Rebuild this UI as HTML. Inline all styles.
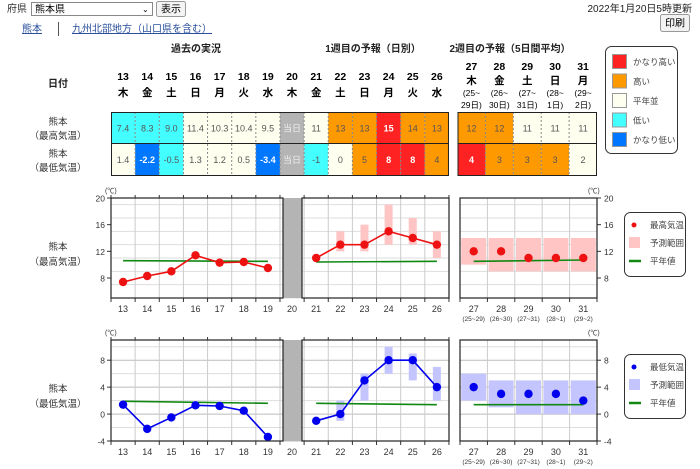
<!DOCTYPE html><html><head><meta charset="utf-8"><style>
body{margin:0;width:700px;height:469px;background:#fff;overflow:hidden;font-family:"Liberation Sans","Noto Sans CJK JP",sans-serif;}
svg{position:absolute;left:0;top:0}
</style></head><body>
<svg id="s" width="700" height="469" xmlns="http://www.w3.org/2000/svg" font-family="Liberation Sans, Noto Sans CJK JP, sans-serif">
<text x="7" y="12" font-size="10" fill="#333">府県</text>
<rect x="31.5" y="2.5" width="121" height="13" fill="#fff" stroke="#888"/>
<text x="35" y="12.5" font-size="10">熊本県</text>
<text x="142" y="12" font-size="8">⌄</text>
<rect x="156.5" y="1.5" width="29" height="15" rx="2" fill="#f4f4f4" stroke="#999"/>
<text x="171" y="12.5" font-size="10" text-anchor="middle">表示</text>
<text x="22" y="32" font-size="10" fill="#2a4f9c" text-decoration="underline">熊本</text>
<line x1="58.5" y1="22" x2="58.5" y2="36" stroke="#555"/>
<text x="72" y="32" font-size="10" fill="#2a4f9c" text-decoration="underline">九州北部地方（山口県を含む）</text>
<text x="692" y="12" font-size="10" text-anchor="end" fill="#222">2022年1月20日5時更新</text>
<rect x="660.5" y="14.5" width="29" height="17" rx="2" fill="#f2f2f2" stroke="#999"/>
<text x="675" y="26.5" font-size="10" text-anchor="middle">印刷</text>
<g font-size="10" font-weight="bold" text-anchor="middle" fill="#222">
<text x="196" y="52">過去の実況</text><text x="373" y="52">1週目の予報（日別）</text><text x="510" y="52">2週目の予報（5日間平均）</text>
<text x="58" y="87">日付</text>
</g>
<g font-size="9.5" text-anchor="middle" fill="#333">
<text x="58" y="125">熊本</text><text x="58" y="139">（最高気温）</text>
<text x="58" y="157">熊本</text><text x="58" y="171">（最低気温）</text>
<text x="58" y="250">熊本</text><text x="58" y="265">（最高気温）</text>
<text x="58" y="392">熊本</text><text x="58" y="407">（最低気温）</text>
</g>
<g id="g"></g>
</svg>
<script>
var g=document.getElementById('g'),h='';
function t(x,y,s,a){h+='<text x="'+x+'" y="'+y+'" '+(a||'')+'>'+s+'</text>';}
function r(x,y,w,hh,a){h+='<rect x="'+x+'" y="'+y+'" width="'+w+'" height="'+hh+'" '+a+'/>';}
function l(x1,y1,x2,y2,a){h+='<line x1="'+x1+'" y1="'+y1+'" x2="'+x2+'" y2="'+y2+'" '+a+'/>';}
var C={r:'#ff2222',o:'#ff9900',n:'#fffff0',c:'#44ffff',b:'#0077ff',g:'#b4b4b4'};
var days=[13,14,15,16,17,18,19,20,21,22,23,24,25,26],wd='木金土日月火水木金土日月火水';
var cw=24.14,x0=111;
var hi=[['7.4','c'],['8.3','c'],['9.0','c'],['11.4','n'],['10.3','n'],['10.4','n'],['9.5','n'],['当日','g'],['11','n'],['13','o'],['13','o'],['15','r'],['14','o'],['13','o']];
var lo=[['1.4','n'],['-2.2','b'],['-0.5','c'],['1.3','n'],['1.2','n'],['0.5','n'],['-3.4','b'],['当日','g'],['-1','c'],['0','n'],['5','o'],['8','r'],['8','r'],['4','o']];
for(var i=0;i<14;i++){var cx=x0+cw*i+cw/2;
t(cx,80,days[i],'font-size="10.5" font-weight="bold" text-anchor="middle"');
t(cx,96,wd[i],'font-size="10.5" font-weight="bold" text-anchor="middle"');
[[hi,112],[lo,143.5]].forEach(function(p){var v=p[0][i],y=p[1];r(x0+cw*i,y,cw,31.5,'fill="'+C[v[1]]+'"');
var wh=(v[1]=='r'||v[1]=='b');t(cx,y+19.5,v[0],'font-size="9" text-anchor="middle" fill="'+(wh?'#fff':v[1]=='g'?'#eee':'#555')+'"'+(wh?' font-weight="bold"':''));});
if(i>0)l(x0+cw*i,112,x0+cw*i,175,'stroke="#888" stroke-dasharray="2,2"');}
l(x0,143.5,x0+cw*14,143.5,'stroke="#222"');r(x0+.5,112.5,cw*14-1,63,'fill="none" stroke="#222"');
var x1=457.5,cw2=27.9,d2=[27,28,29,30,31],w2='木金土日月',s1=['(25~','(26~','(27~','(28~','(29~'],s2=['29日)','30日)','31日)','1日)','2日)'];
var hi2=[['12','o'],['12','o'],['11','n'],['11','n'],['11','n']],lo2=[['4','r'],['3','o'],['3','o'],['3','o'],['2','n']];
for(i=0;i<5;i++){var cx=x1+cw2*i+cw2/2;
t(cx,70,d2[i],'font-size="10.5" font-weight="bold" text-anchor="middle"');t(cx,84,w2[i],'font-size="10.5" font-weight="bold" text-anchor="middle"');
t(cx,96,s1[i],'font-size="8.5" text-anchor="middle"');t(cx,108,s2[i],'font-size="8.5" text-anchor="middle"');
[[hi2,112],[lo2,143.5]].forEach(function(p){var v=p[0][i],y=p[1];r(x1+cw2*i,y,cw2,31.5,'fill="'+C[v[1]]+'"');var wh=v[1]=='r';
t(cx,y+19.5,v[0],'font-size="9" text-anchor="middle" fill="'+(wh?'#fff':'#555')+'"'+(wh?' font-weight="bold"':''));});
if(i>0)l(x1+cw2*i,112,x1+cw2*i,175,'stroke="#888" stroke-dasharray="2,2"');}
l(x1,143.5,x1+cw2*5,143.5,'stroke="#222"');r(x1+.5,112.5,cw2*5-1,63,'fill="none" stroke="#222"');
r(605.5,46.5,72,107,'rx="6" fill="#fff" stroke="#333"');
[['r','かなり高い'],['o','高い'],['n','平年並'],['c','低い'],['b','かなり低い']].forEach(function(v,k){var y=54+k*19.5;r(612.5,y+.5,14,14,'fill="'+C[v[0]]+'" stroke="#999"');t(633,y+11,v[1],'font-size="8.5" fill="#444"');});
// charts
function chart(top,bot,vmin,vmax,ticks,col,rc,data,rng,nor,data2,rng2,nor2,lab){
var py=function(v){return bot-(v-vmin)*(bot-top)/(vmax-vmin);};var L=111,R=449,P=460,Q=597;
var xs=function(i){return L+cw*i+cw/2;},xs2=function(i){return P+(Q-P)/5*i+(Q-P)/10;};
for(var v=Math.ceil(vmin);v<=vmax;v+=2){var y=py(v);l(L,y,R,y,'stroke="'+(v%4==0?'#bbb':'#ddd')+'"');l(P,y,Q,y,'stroke="'+(v%4==0?'#bbb':'#ddd')+'"');}
for(i=0;i<=14;i++){var x=L+cw*i;l(x,top,x,bot,'stroke="#ccc"');l(x,top-3,x,top,'stroke="#333"');l(x,bot,x,bot+4,'stroke="#333"');}
for(i=0;i<=5;i++){var x=P+(Q-P)/5*i;l(x,top,x,bot,'stroke="#ccc"');l(x,bot,x,bot+4,'stroke="#333"');}
r(283,top,19,bot-top,'fill="#b4b4b4"');
for(i=0;i<14;i++)t(xs(i),bot+14,days[i],'font-size="9" text-anchor="middle" fill="#333"');
for(i=0;i<5;i++){t(xs2(i),bot+14,d2[i],'font-size="9" text-anchor="middle" fill="#333"');t(xs2(i),bot+23,['(25~29)','(26~30)','(27~31)','(28~1)','(29~2)'][i],'font-size="6.5" text-anchor="middle" fill="#333"');}
ticks.forEach(function(v){var y=py(v);t(105,y+3.5,v,'font-size="8.5" text-anchor="end" fill="#333"');t(604,y+3.5,v,'font-size="8.5" fill="#333"');l(L-4,y,L,y,'stroke="#333"');l(Q,y,Q+4,y,'stroke="#333"');});
t(105,top-5,'(℃)','font-size="7" fill="#333"');t(588,top-5,'(℃)','font-size="7" fill="#333"');
rng.forEach(function(a){r(xs(a[0])-4,py(a[2]),8,py(a[1])-py(a[2]),'fill="'+rc+'"');});
rng2.forEach(function(a,k){r(xs2(k)-12.5,py(a[1]),25,py(a[0])-py(a[1]),'fill="'+rc+'"');});
h+='<polyline fill="none" stroke="#118811" stroke-width="1.6" points="'+xs(0)+','+py(nor[0])+' '+xs(6)+','+py(nor[1])+'"/>';
h+='<polyline fill="none" stroke="#118811" stroke-width="1.6" points="'+xs(8)+','+py(nor[2])+' '+xs(13)+','+py(nor[3])+'"/>';
h+='<polyline fill="none" stroke="#118811" stroke-width="1.6" points="'+xs2(0)+','+py(nor2[0])+' '+xs2(4)+','+py(nor2[1])+'"/>';
var p1=[],p2=[];data.forEach(function(v,i){if(v===null)return;(i<7?p1:p2).push(xs(i)+','+py(v));});
h+='<polyline fill="none" stroke="'+col+'" stroke-width="1.6" points="'+p1.join(' ')+'"/><polyline fill="none" stroke="'+col+'" stroke-width="1.6" points="'+p2.join(' ')+'"/>';
data.forEach(function(v,i){if(v!==null)h+='<circle cx="'+xs(i)+'" cy="'+py(v)+'" r="4.2" fill="'+col+'"/>';});
data2.forEach(function(v,i){h+='<circle cx="'+xs2(i)+'" cy="'+py(v)+'" r="4.2" fill="'+col+'"/>';});
h+='<rect x="'+L+'" y="'+top+'" width="'+(283-L)+'" height="'+(bot-top)+'" fill="none" stroke="#222" stroke-width="1.2"/>';
h+='<rect x="302" y="'+top+'" width="'+(R-302)+'" height="'+(bot-top)+'" fill="none" stroke="#222" stroke-width="1.2"/>';
h+='<rect x="'+P+'" y="'+top+'" width="'+(Q-P)+'" height="'+(bot-top)+'" fill="none" stroke="#222" stroke-width="1.2"/>';
var ly=top+14;r(624.5,ly+.5,61,64,'rx="6" fill="#fff" stroke="#333"');
h+='<circle cx="634" cy="'+(ly+13)+'" r="2.5" fill="'+col+'"/>';t(650,ly+16,lab,'font-size="8.5" fill="#444"');
r(629,ly+25,11,11,'fill="'+rc+'"');t(650,ly+34,'予測範囲','font-size="8.5" fill="#444"');
l(629,ly+49,641,ly+49,'stroke="#118811" stroke-width="2.5"');t(650,ly+52,'平年値','font-size="8.5" fill="#444"');
}
chart(198,298,5,20,[20,16,12,8],'#ee1111','#ffc4c4',[7.4,8.3,9.0,11.4,10.3,10.4,9.5,null,11,13,13,15,14,13],[[9,12,15],[10,12,16],[11,13,19],[12,13,17],[13,11,15]],[10.6,10.5,10.4,10.5],[12,12,11,11,11],[[10,14],[9,14],[9,14],[9,14],[9,14]],[10.5,10.7],'最高気温');
chart(340,441,-4,11,[8,4,0,-4],'#0000ee','#c4c4ff',[1.4,-2.2,-0.5,1.3,1.2,0.5,-3.4,null,-1,0,5,8,8,4],[[9,-1,2],[10,2,6],[11,6,10],[12,5,9],[13,2,7]],[1.9,1.6,1.6,1.4],[4,3,3,3,2],[[2,6],[1,5],[0,5],[0,5],[0,5]],[1.4,1.4],'最低気温');
g.innerHTML=h;
</script>
</body></html>
